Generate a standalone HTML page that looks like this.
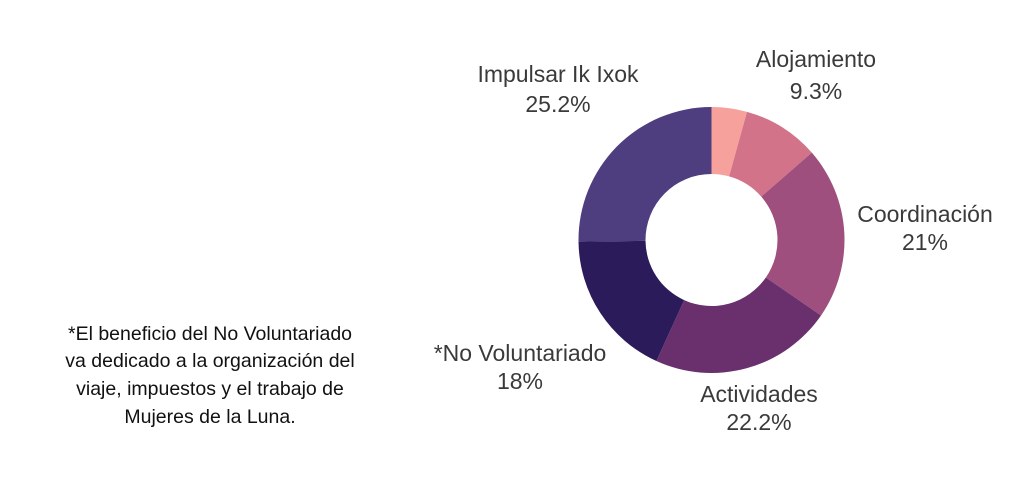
<!DOCTYPE html>
<html><head><meta charset="utf-8"><style>
html,body{margin:0;padding:0;background:#fff;width:1024px;height:480px;overflow:hidden}
svg{display:block}
text{font-family:"Liberation Sans",sans-serif;fill:#3a3a3a}
.l{font-size:23px;font-weight:300}
.n{font-size:19.5px;fill:#111}
</style></head><body>
<svg id="s" width="1024" height="480" viewBox="0 0 1024 480">
<g id="g"></g>
<text class="l" x="558" y="82" text-anchor="middle">Impulsar Ik Ixok</text>
<text class="l" x="558" y="112" text-anchor="middle">25.2%</text>
<text class="l" x="816" y="67" text-anchor="middle">Alojamiento</text>
<text class="l" x="816" y="99" text-anchor="middle">9.3%</text>
<text class="l" x="925" y="222" text-anchor="middle">Coordinación</text>
<text class="l" x="925" y="250" text-anchor="middle">21%</text>
<text class="l" x="520" y="361" text-anchor="middle">*No Voluntariado</text>
<text class="l" x="520" y="389" text-anchor="middle">18%</text>
<text class="l" x="759" y="402" text-anchor="middle">Actividades</text>
<text class="l" x="759" y="430" text-anchor="middle">22.2%</text>
<text class="n" x="210" y="340" text-anchor="middle">*El beneficio del No Voluntariado</text>
<text class="n" x="210" y="367" text-anchor="middle">va dedicado a la organización del</text>
<text class="n" x="210" y="395" text-anchor="middle">viaje, impuestos y el trabajo de</text>
<text class="n" x="210" y="423" text-anchor="middle">Mujeres de la Luna.</text>
</svg>
<script>
var cx=711.5,cy=240,R=133,r=66;
var d=[[4.3,"#f6a19b"],[9.3,"#d2738a"],[21,"#9f4f7e"],[22.2,"#69306d"],[18,"#2b1b5b"],[25.2,"#4e3d7f"]];
var a=0,h="";
function p(rad,ang){return [(cx+rad*Math.sin(ang)).toFixed(2),(cy-rad*Math.cos(ang)).toFixed(2)];}
d.forEach(function(s){
 var b=a+s[0]/100*2*Math.PI,l=(b-a)>Math.PI?1:0;
 var A=p(R,a),B=p(R,b),C=p(r,b),D=p(r,a);
 h+='<path fill="'+s[1]+'" d="M'+A+' A'+R+' '+R+' 0 '+l+' 1 '+B+' L'+C+' A'+r+' '+r+' 0 '+l+' 0 '+D+'Z"/>';
 a=b;
});
document.getElementById("g").innerHTML=h;
</script>
</body></html>
